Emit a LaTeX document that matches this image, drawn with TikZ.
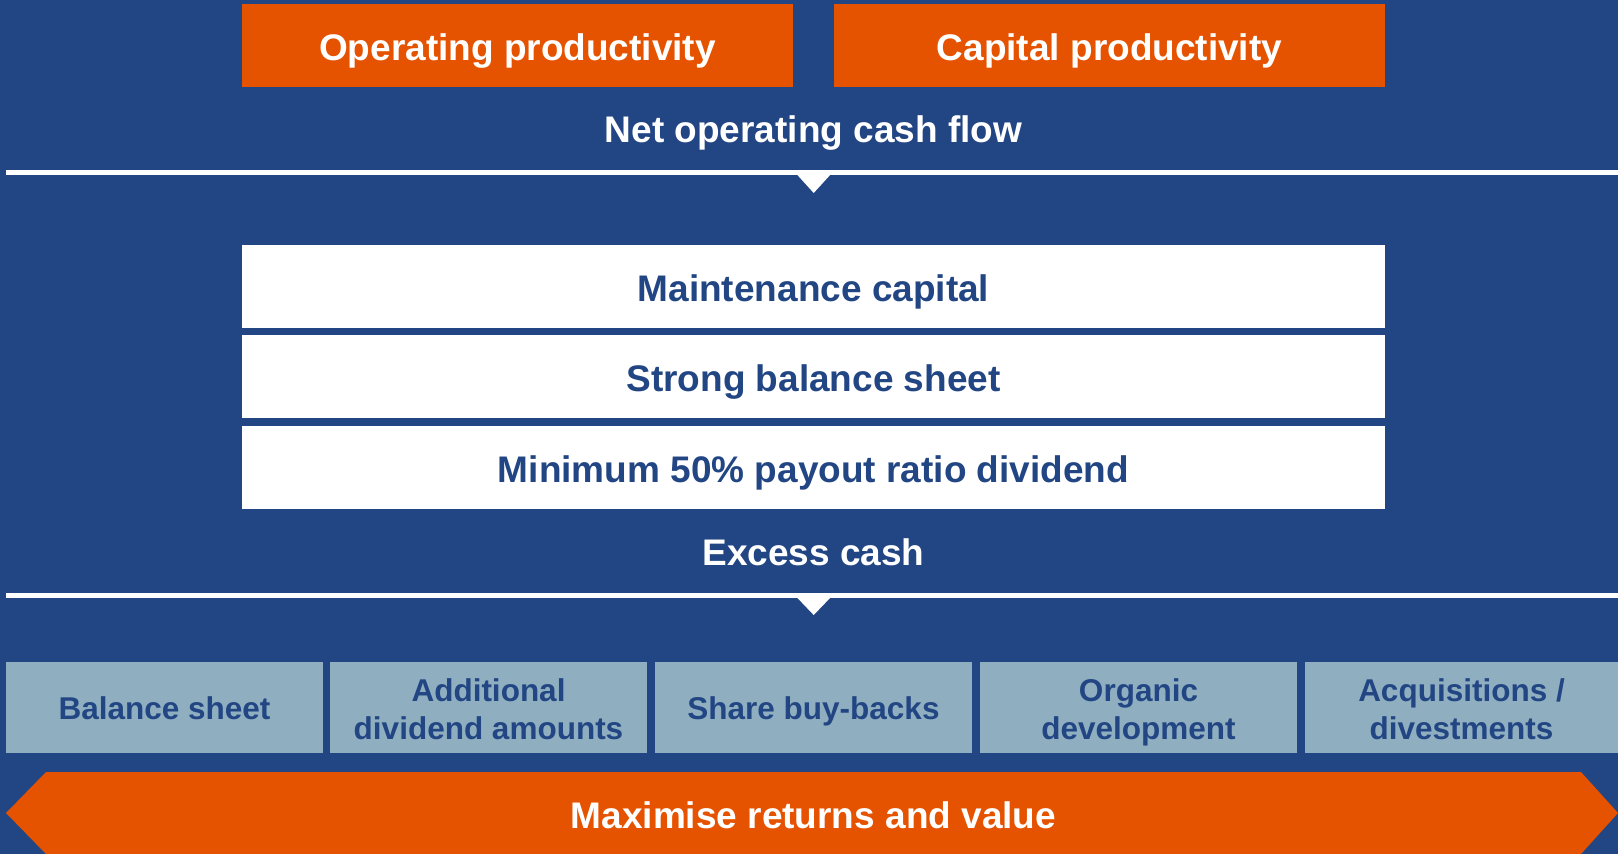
\documentclass[tikz,border=0pt]{standalone}
\usepackage{fontspec}
\setmainfont{Liberation Sans}
\definecolor{bgblue}{RGB}{34,69,131}
\definecolor{orng}{RGB}{229,83,0}
\definecolor{lightbox}{RGB}{143,175,192}
\begin{document}
\begin{tikzpicture}[x=1pt,y=-1pt,
  bigtxt/.style={font=\fontsize{37}{44}\selectfont\bfseries, inner sep=0pt},
  smalltxt/.style={font=\fontsize{31.5}{38}\selectfont\bfseries, inner sep=0pt, text=bgblue},
  capbig/.style={text height=29pt, text depth=0pt},
  capsmall/.style={text height=24.5pt, text depth=0pt},
  orangebox/.style={bigtxt, capbig, fill=orng, text=white, minimum width=551pt, minimum height=83pt},
  whitebox/.style={bigtxt, capbig, fill=white, text=bgblue, minimum width=1143pt, minimum height=83pt},
  optbox/.style={smalltxt, fill=lightbox, minimum height=91pt},
  headtxt/.style={bigtxt, text=white, anchor=base}
]
\useasboundingbox (0,0) rectangle (1618,854);
\fill[bgblue] (0,0) rectangle (1618,854);

% top orange boxes
\node[orangebox] (op) at (517.5,45.5) {Operating productivity};
\node[orangebox] (cp) at (1109.5,45.5) {Capital productivity};

\node[headtxt] (ncf) at (813.5,142.5) {Net operating cash flow};

% first divider with triangle
\fill[white] (6,169.5) rectangle (1618,175);
\fill[white] (796.5,174) -- (831,174) -- (813.7,193) -- cycle;

% white boxes
\node[whitebox] (mc) at (813.5,286.5) {Maintenance capital};
\node[whitebox] (sb) at (813.5,376.5) {Strong balance sheet};
\node[whitebox] (md) at (813.5,467.5) {Minimum 50\% payout ratio dividend};

\node[headtxt] (ec) at (813.5,565) {Excess cash};

% second divider with triangle
\fill[white] (6,592.5) rectangle (1618,598);
\fill[white] (796.5,597) -- (831,597) -- (813.7,615) -- cycle;

% option boxes
\node[optbox, capsmall, minimum width=317pt] (bs) at (164.5,707.5) {Balance sheet};
\node[optbox, minimum width=317pt] (ad) at (488.5,707.5) {};
\node[smalltxt, anchor=base] (ad1) at (488.5,701) {Additional};
\node[smalltxt, anchor=base] (ad2) at (488.5,739) {dividend amounts};
\node[optbox, capsmall, minimum width=317pt] (sh) at (813.5,707.5) {Share buy-backs};
\node[optbox, minimum width=317pt] (od) at (1138.5,707.5) {};
\node[smalltxt, anchor=base] (od1) at (1138.5,701) {Organic};
\node[smalltxt, anchor=base] (od2) at (1138.5,739) {development};
\node[optbox, minimum width=313pt] (aq) at (1461.5,707.5) {};
\node[smalltxt, anchor=base] (aq1) at (1461.5,701) {Acquisitions /};
\node[smalltxt, anchor=base] (aq2) at (1461.5,739) {divestments};

% bottom double arrow
\fill[orng] (6,813) -- (46,772) -- (1581,772) -- (1618,813) -- (1581,854) -- (46,854) -- cycle;
\node[headtxt] (mr) at (813.5,828) {Maximise returns and value};
\end{tikzpicture}
\end{document}
